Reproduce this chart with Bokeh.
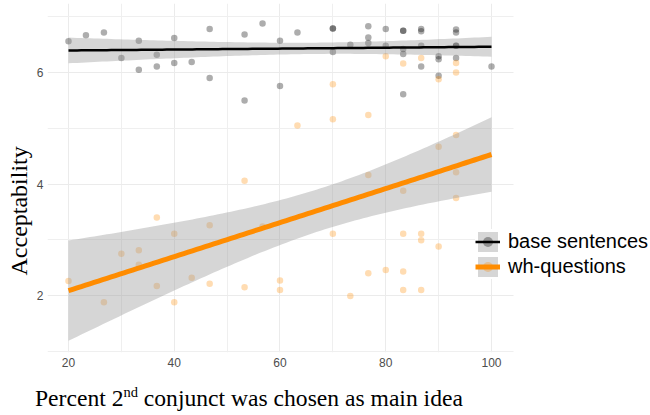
import numpy as np
from bokeh.plotting import figure
from bokeh.layouts import column
from bokeh.models import (Range1d, FixedTicker, Legend, LegendItem, Title,
                          BoxAnnotation, Div)
from bokeh.embed import file_html
from bokeh.resources import INLINE

# ---- data ----
base_x = [20, 23.3, 26.7, 30, 33.3, 33.3, 36.7, 36.7, 40, 40, 43.3, 46.7, 46.7,
          53.3, 53.3, 56.7, 60, 60, 63.3, 70, 70, 70, 73.3, 76.7, 76.7, 76.7,
          80, 80, 83.3, 83.3, 83.3, 83.3, 83.3, 86.7, 86.7, 86.7, 86.7,
          90, 90, 90, 93.3, 93.3, 93.3, 93.3, 93.3, 100]
base_y = [6.56, 6.67, 6.72, 6.26, 6.57, 6.05, 6.32, 6.11, 6.62, 6.17, 6.19, 6.78, 5.90,
          6.68, 5.50, 6.88, 6.57, 5.76, 6.72, 6.79, 6.79, 6.37, 6.50, 6.83, 6.63, 6.53,
          6.78, 6.48, 6.75, 6.75, 6.42, 6.33, 5.61, 6.78, 6.74, 6.48, 6.11,
          6.29, 6.24, 5.94, 6.77, 6.72, 6.48, 6.48, 6.26, 6.11]

wh_x = [20, 26.7, 30, 33.3, 33.3, 36.7, 36.7, 40, 40, 43.3, 46.7, 46.7,
        53.3, 53.3, 56.7, 60, 60, 63.3, 70, 70, 70, 73.3, 76.7, 76.7, 76.7,
        80, 80, 83.3, 83.3, 83.3, 83.3, 83.3, 86.7, 86.7, 86.7, 86.7,
        90, 90, 90, 93.3, 93.3, 93.3, 93.3, 93.3, 100]
wh_y = [2.26, 1.88, 2.75, 2.81, 2.55, 2.17, 3.40, 3.11, 1.88, 2.32, 2.21, 3.26,
        2.15, 4.06, 3.24, 2.27, 2.10, 5.05, 5.79, 5.16, 3.11, 1.99, 5.24, 4.16, 2.40,
        6.29, 2.46, 6.16, 3.88, 3.11, 2.43, 2.10, 6.26, 3.11, 2.99, 2.10,
        5.88, 4.67, 2.88, 6.17, 6.00, 4.88, 4.21, 3.75, 3.00]

x_ticks = [20, 40, 60, 80, 100]
x_minor = [30, 50, 70, 90]
y_ticks = [2, 4, 6]
y_minor = [1, 3, 5, 7]
series_labels = ["base sentences", "wh-questions"]
y_title = "Acceptability"
x_title_html = ("Percent 2<sup style='font-size:14.5px;vertical-align:super;line-height:0'>nd</sup>"
                " conjunct was chosen as main idea")

# panel limits (data units)
X0, X_PANEL_END, X1 = 16.03, 104.16, 130.07
Y0, Y1 = 0.978, 7.238


def linear_fit(xs, ys, t=2.016):
    x = np.asarray(xs, float)
    y = np.asarray(ys, float)
    n = len(x)
    b, a = np.polyfit(x, y, 1)
    s = np.sqrt(np.sum((y - (a + b * x)) ** 2) / (n - 2))
    sxx = np.sum((x - x.mean()) ** 2)
    gx = np.linspace(x.min(), x.max(), 100)
    yhat = a + b * gx
    se = s * np.sqrt(1.0 / n + (gx - x.mean()) ** 2 / sxx)
    return gx, yhat, yhat - t * se, yhat + t * se


p = figure(width=650, height=380, output_backend="svg", toolbar_location=None,
           title=None, x_range=Range1d(X0, X1), y_range=Range1d(Y0, Y1),
           min_border_left=47, min_border_right=0, min_border_top=3,
           min_border_bottom=28, margin=0)
p.outline_line_color = None
p.background_fill_color = "white"
p.border_fill_color = "white"

for ax in (p.xaxis[0], p.yaxis[0]):
    ax.axis_line_color = None
    ax.major_tick_line_color = None
    ax.minor_tick_line_color = None
    ax.major_tick_in = 0
    ax.major_tick_out = 0
    ax.minor_tick_in = 0
    ax.minor_tick_out = 0
    ax.major_label_text_font = "Liberation Sans"
    ax.major_label_text_font_size = "12px"
    ax.major_label_text_color = "#4D4D4D"
p.xaxis.major_label_standoff = 5
p.yaxis.major_label_standoff = 4
p.xaxis.ticker = FixedTicker(ticks=x_ticks, minor_ticks=x_minor)
p.yaxis.ticker = FixedTicker(ticks=y_ticks, minor_ticks=y_minor)

for g in (p.xgrid[0], p.ygrid[0]):
    g.grid_line_color = "#EBEBEB"
    g.grid_line_width = 1
    g.minor_grid_line_color = "#EFEFEF"
    g.minor_grid_line_width = 1

# points
pts_b = p.scatter(base_x, base_y, size=6.5, fill_color="black", fill_alpha=0.32,
                  line_color=None)
pts_w = p.scatter(wh_x, wh_y, size=6.5, fill_color="#FF8C00", fill_alpha=0.3,
                  line_color=None)

# linear fits with 95% confidence band
bx, byh, blo, bhi = linear_fit(base_x, base_y)
wx, wyh, wlo, whi = linear_fit(wh_x, wh_y)
rib_b = p.varea(x=bx, y1=blo, y2=bhi, fill_color="#999999", fill_alpha=0.4)
rib_w = p.varea(x=wx, y1=wlo, y2=whi, fill_color="#999999", fill_alpha=0.4)
ln_b = p.line(bx, byh, line_color="black", line_width=2.5)
ln_w = p.line(wx, wyh, line_color="#FF8C00", line_width=5)

# blank area right of the panel (legend sits there)
p.add_layout(BoxAnnotation(left=X_PANEL_END, right=X1, bottom=Y0, top=Y1,
                           fill_color="white", fill_alpha=1.0, line_color=None,
                           line_alpha=0))

legend = Legend(items=[LegendItem(label=series_labels[0], renderers=[rib_b, ln_b, pts_b]),
                       LegendItem(label=series_labels[1], renderers=[rib_w, pts_w, ln_w])],
                location=(428, 73), padding=0, margin=0, spacing=0,
                glyph_width=25, glyph_height=25, label_standoff=8,
                label_text_font="Liberation Sans", label_text_font_size="20px",
                label_text_color="black", border_line_color=None,
                background_fill_color="white", background_fill_alpha=1.0)
p.add_layout(legend)

# y axis title
p.add_layout(Title(text=y_title, align="left", offset=77, vertical_align="top",
                   standoff=0, text_font="Liberation Serif", text_font_size="24px",
                   text_font_style="normal", text_color="black"), "left")

# x axis title (with superscript)
xlab = Div(text=("<div style=\"font-family:'Liberation Serif';font-size:23.6px;"
                 "line-height:25px;padding-top:6px;padding-left:35px;color:black;"
                 "white-space:nowrap\">" + x_title_html + "</div>"),
           width=650, height=34, margin=0)

layout = column(p, xlab, spacing=0, margin=0)
open("out.html", "w").write(file_html(layout, INLINE))
